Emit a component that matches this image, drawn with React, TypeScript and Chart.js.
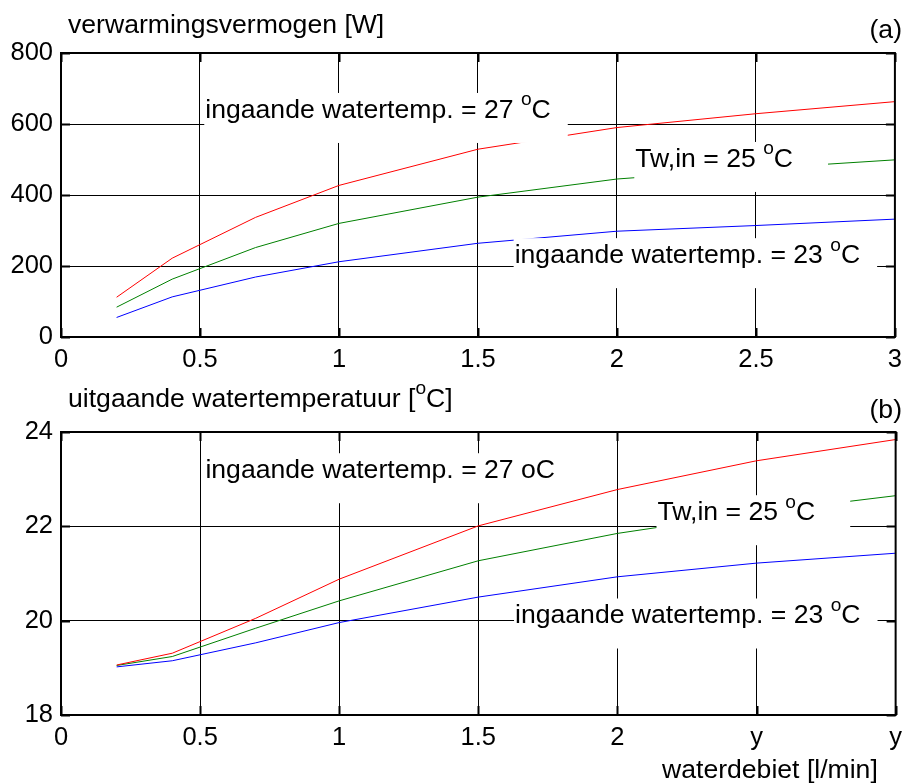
import React, { useEffect, useRef } from "react";
import { Chart, registerables } from "chart.js";
Chart.register(...registerables);

// ---- data ----
const flow = [0.2, 0.4, 0.7, 1.0, 1.5, 2.0, 2.5, 3.0];
const power27 = [112, 222, 337, 427, 529, 590, 629, 663];
const power25 = [84, 163, 252, 320, 394, 445, 474, 499];
const power23 = [55, 113, 169, 212, 264, 298, 314, 332];
const tout27 = [19.06, 19.31, 20.05, 20.88, 22.01, 22.78, 23.39, 23.84];
const tout25 = [19.05, 19.24, 19.84, 20.42, 21.27, 21.85, 22.29, 22.65];
const tout23 = [19.02, 19.15, 19.53, 19.96, 20.5, 20.93, 21.22, 21.43];

const topXTickLabels = ["0", "0.5", "1", "1.5", "2", "2.5", "3"];
const bottomXTickLabels = ["0", "0.5", "1", "1.5", "2", "y", "y"];
const topYTickLabels = ["0", "200", "400", "600", "800"];
const bottomYTickLabels = ["18", "20", "22", "24"];

const FONT = '"Liberation Sans", Arial, Helvetica, sans-serif';
const TEXT_SIZE = 26.6;
const TICK_SIZE = 25.5;

type Part = { t: string; sup?: boolean };
type Note = { x: number; y: number; parts: Part[]; padR: number };

const topNotes: Note[] = [
  { x: 0.519, y: 617, parts: [{ t: "ingaande watertemp. = 27 " }, { t: "o", sup: true }, { t: "C" }], padR: 17 },
  { x: 2.066, y: 479, parts: [{ t: "Tw,in = 25 " }, { t: "o", sup: true }, { t: "C" }], padR: 35 },
  { x: 1.632, y: 208, parts: [{ t: "ingaande watertemp. = 23 " }, { t: "o", sup: true }, { t: "C" }], padR: 17 },
];
const bottomNotes: Note[] = [
  { x: 0.519, y: 23.02, parts: [{ t: "ingaande watertemp. = 27 oC" }], padR: 4 },
  { x: 2.144, y: 22.13, parts: [{ t: "Tw,in = 25 " }, { t: "o", sup: true }, { t: "C" }], padR: 35 },
  { x: 1.632, y: 19.94, parts: [{ t: "ingaande watertemp. = 23 " }, { t: "o", sup: true }, { t: "C" }], padR: 17 },
];

function richText(ctx: CanvasRenderingContext2D, x: number, y: number, parts: Part[], size: number, draw: boolean) {
  let cx = x;
  ctx.textAlign = "left";
  ctx.textBaseline = "alphabetic";
  ctx.fillStyle = "#000";
  for (const p of parts) {
    if (p.sup) {
      ctx.font = `${size * 0.72}px ${FONT}`;
      if (draw) ctx.fillText(p.t, cx, y - size * 0.47);
    } else {
      ctx.font = `${size}px ${FONT}`;
      if (draw) ctx.fillText(p.t, cx, y);
    }
    cx += ctx.measureText(p.t).width;
  }
  return cx - x;
}

function makeChart(
  canvas: HTMLCanvasElement,
  series: number[][],
  yMin: number,
  yMax: number,
  yStep: number,
  yLabels: string[],
  xLabels: string[],
  padTop: number,
  xAxisHeight: number,
  notes: Note[],
  texts: (ctx: CanvasRenderingContext2D) => void
) {
  const colors = ["#ff0000", "#008000", "#0000ff"];
  const notesPlugin = {
    id: "notes",
    afterDatasetsDraw(chart: any) {
      const ctx = chart.ctx as CanvasRenderingContext2D;
      const xs = chart.scales.x;
      const ys = chart.scales.y;
      ctx.save();
      for (const n of notes) {
        const px = xs.getPixelForValue(n.x);
        const py = ys.getPixelForValue(n.y);
        const w = richText(ctx, px, py, n.parts, TEXT_SIZE, false);
        ctx.fillStyle = "#fff";
        ctx.fillRect(px - 1, py - 25, w + 1 + n.padR, 50);
        richText(ctx, px, py, n.parts, TEXT_SIZE, true);
      }
      ctx.restore();
    },
    afterDraw(chart: any) {
      const ctx = chart.ctx as CanvasRenderingContext2D;
      const a = chart.chartArea;
      const xs = chart.scales.x;
      const ys = chart.scales.y;
      ctx.save();
      ctx.strokeStyle = "#000";
      ctx.lineWidth = 2;
      ctx.beginPath();
      const tl = 9;
      for (const t of xs.ticks) {
        const p = Math.round(xs.getPixelForValue(t.value)) + 0.5;
        ctx.moveTo(p, a.bottom);
        ctx.lineTo(p, a.bottom - tl);
        ctx.moveTo(p, a.top);
        ctx.lineTo(p, a.top + tl);
      }
      for (const t of ys.ticks) {
        const p = Math.round(ys.getPixelForValue(t.value)) + 0.5;
        ctx.moveTo(a.left, p);
        ctx.lineTo(a.left + tl, p);
        ctx.moveTo(a.right, p);
        ctx.lineTo(a.right - tl, p);
      }
      ctx.stroke();
      ctx.lineWidth = 2;
      ctx.strokeRect(a.left, a.top, a.right - a.left, a.bottom - a.top);
      texts(ctx);
      ctx.restore();
    },
  };

  return new Chart(canvas, {
    type: "line",
    data: {
      datasets: series.map((s, i) => ({
        data: flow.map((f, k) => ({ x: f, y: s[k] })),
        borderColor: colors[i],
        borderWidth: 1,
        pointRadius: 0,
        tension: 0,
        fill: false,
      })),
    },
    options: {
      responsive: false,
      animation: false,
      devicePixelRatio: 1,
      layout: { padding: { top: padTop, right: 11, left: 0, bottom: 0 } },
      plugins: { legend: { display: false }, tooltip: { enabled: false }, title: { display: false } },
      scales: {
        x: {
          type: "linear",
          min: 0,
          max: 3,
          afterFit: (s: any) => {
            s.height = xAxisHeight;
          },
          grid: { color: "#000", lineWidth: 1, drawTicks: false },
          border: { display: false },
          ticks: {
            stepSize: 0.5,
            padding: 8,
            color: "#000",
            font: { family: FONT, size: TICK_SIZE },
            maxRotation: 0,
            autoSkip: false,
            callback: (_v: any, i: number) => xLabels[i],
          },
        },
        y: {
          type: "linear",
          min: yMin,
          max: yMax,
          afterFit: (s: any) => {
            s.width = 61;
          },
          grid: { color: "#000", lineWidth: 1, drawTicks: false },
          border: { display: false },
          ticks: {
            stepSize: yStep,
            padding: 8,
            color: "#000",
            font: { family: FONT, size: TICK_SIZE },
            autoSkip: false,
            callback: (_v: any, i: number) => yLabels[i],
          },
        },
      },
    } as any,
    plugins: [notesPlugin],
  });
}

export default function App() {
  const topRef = useRef<HTMLCanvasElement>(null);
  const botRef = useRef<HTMLCanvasElement>(null);

  useEffect(() => {
    const c1 = makeChart(
      topRef.current!,
      [power27, power25, power23],
      0,
      800,
      200,
      topYTickLabels,
      topXTickLabels,
      53,
      43,
      topNotes,
      (ctx) => {
        richText(ctx, 68, 33, [{ t: "verwarmingsvermogen [W]" }], TEXT_SIZE, true);
        ctx.font = `${TEXT_SIZE}px ${FONT}`;
        ctx.textAlign = "right";
        ctx.fillText("(a)", 902, 38);
      }
    );
    const c2 = makeChart(
      botRef.current!,
      [tout27, tout25, tout23],
      18,
      24,
      2,
      bottomYTickLabels,
      bottomXTickLabels,
      52,
      69,
      bottomNotes,
      (ctx) => {
        richText(
          ctx,
          68,
          27,
          [{ t: "uitgaande watertemperatuur [" }, { t: "o", sup: true }, { t: "C]" }],
          TEXT_SIZE,
          true
        );
        ctx.font = `${TEXT_SIZE}px ${FONT}`;
        ctx.textAlign = "right";
        ctx.fillText("(b)", 902, 38);
        richText(ctx, 662, 398, [{ t: "waterdebiet [l/min]" }], TEXT_SIZE, true);
      }
    );
    return () => {
      c1.destroy();
      c2.destroy();
    };
  }, []);

  return (
    <div style={{ position: "absolute", left: 0, top: 0, width: 910, height: 784, background: "#fff" }}>
      <canvas ref={topRef} width={910} height={380} style={{ display: "block", position: "absolute", left: 0, top: 0 }} />
      <canvas ref={botRef} width={910} height={404} style={{ display: "block", position: "absolute", left: 0, top: 380 }} />
    </div>
  );
}
